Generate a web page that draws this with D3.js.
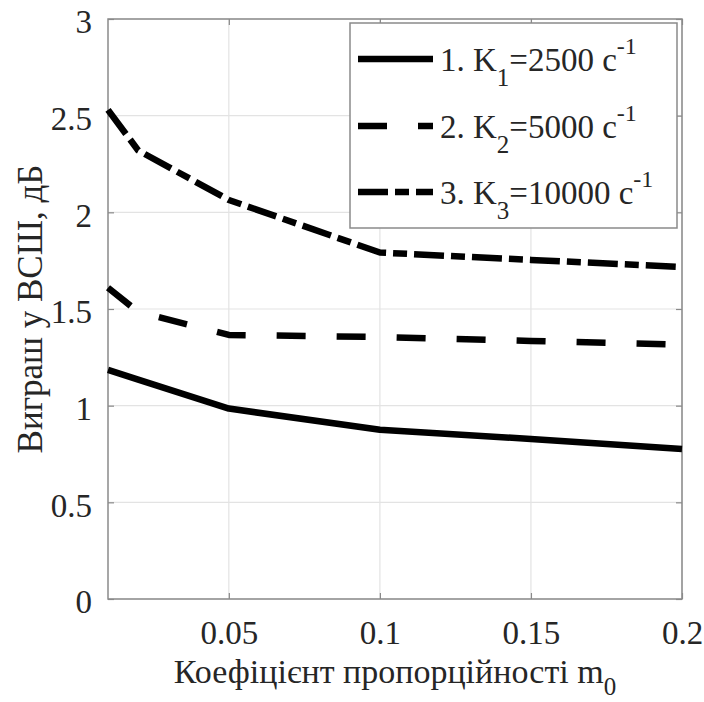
<!DOCTYPE html>
<html>
<head>
<meta charset="utf-8">
<script src="https://cdn.jsdelivr.net/npm/d3@7/dist/d3.min.js"></script>
<style>
  #chart text, #chart tspan {
    font-family: "Times New Roman", "Liberation Serif", Tinos, "Nimbus Roman", FreeSerif, "DejaVu Serif" !important;
  }
</style>
</head>
<body style="margin:0;background:#fff">
<svg id="chart" width="704" height="702" style="display:block"></svg>
<script>
// Proportionality coefficient m0 (x axis)
const mValues = [0.01, 0.02, 0.05, 0.1, 0.15, 0.2];
// SNR gain, dB, for each K
const gainK1 = [1.185, 1.135, 0.985, 0.875, 0.828, 0.776];
const gainK2 = [1.61, 1.485, 1.366, 1.355, 1.335, 1.315];
const gainK3 = [2.53, 2.32, 2.064, 1.792, 1.754, 1.717];

const seriesLabels = [
  { num: "1. K", sub: "1", rest: "=2500 c", sup: "-1" },
  { num: "2. K", sub: "2", rest: "=5000 c", sup: "-1" },
  { num: "3. K", sub: "3", rest: "=10000 c", sup: "-1" }
];
const seriesDash = ["none", "29 31", "30 7 14 7"];

const xTicks = [0.05, 0.1, 0.15, 0.2];
const yTicks = [0, 0.5, 1, 1.5, 2, 2.5, 3];
const xTickLabels = ["0.05", "0.1", "0.15", "0.2"];
const yTickLabels = ["0", "0.5", "1", "1.5", "2", "2.5", "3"];

const FONT = "Times New Roman";
const TEXT_COLOR = "#262626";

const plot = { left: 108, right: 682, top: 19, bottom: 599 };

const svg = d3.select("#chart");
const x = d3.scaleLinear().domain([0.01, 0.2]).range([plot.left, plot.right]);
const y = d3.scaleLinear().domain([0, 3]).range([plot.bottom, plot.top]);

const gridColor = "#e3e3e3";
const axisColor = "#8a8a8a";

// grid
svg.append("g").selectAll("line").data(xTicks).join("line")
  .attr("x1", d => x(d)).attr("x2", d => x(d))
  .attr("y1", plot.top).attr("y2", plot.bottom)
  .attr("stroke", gridColor).attr("stroke-width", 1.2);
svg.append("g").selectAll("line").data(yTicks).join("line")
  .attr("x1", plot.left).attr("x2", plot.right)
  .attr("y1", d => y(d)).attr("y2", d => y(d))
  .attr("stroke", gridColor).attr("stroke-width", 1.2);

// box
svg.append("rect")
  .attr("x", plot.left).attr("y", plot.top)
  .attr("width", plot.right - plot.left).attr("height", plot.bottom - plot.top)
  .attr("fill", "none").attr("stroke", axisColor).attr("stroke-width", 1.5);

// axes with inward ticks on all four sides
const tickLen = 6;
const axisBottom = d3.axisBottom(x).tickValues(xTicks).tickSize(-tickLen).tickFormat((d, i) => xTickLabels[i]).tickPadding(22);
const axisTop = d3.axisTop(x).tickValues(xTicks).tickSize(-tickLen).tickFormat("");
const axisLeft = d3.axisLeft(y).tickValues(yTicks).tickSize(-tickLen).tickFormat((d, i) => yTickLabels[i]).tickPadding(16);
const axisRight = d3.axisRight(y).tickValues(yTicks).tickSize(-tickLen).tickFormat("");

function styleAxis(g) {
  g.select(".domain").remove();
  g.attr("font-family", FONT).attr("font-size", 33);
  g.selectAll(".tick line").attr("stroke", axisColor).attr("stroke-width", 1.2);
  g.selectAll(".tick text").attr("font-family", FONT).attr("fill", TEXT_COLOR);
}

svg.append("g").attr("transform", `translate(0,${plot.bottom})`).call(axisBottom).call(styleAxis)
  .selectAll(".tick text").attr("dy", "0.71em");
svg.append("g").attr("transform", `translate(0,${plot.top})`).call(axisTop).call(styleAxis);
svg.append("g").attr("transform", `translate(${plot.left},0)`).call(axisLeft).call(styleAxis)
  .selectAll(".tick text").attr("dy", "0.42em");
svg.append("g").attr("transform", `translate(${plot.right},0)`).call(axisRight).call(styleAxis);

// series
const line = d3.line().x(d => x(d[0])).y(d => y(d[1]));
const allSeries = [gainK1, gainK2, gainK3];
svg.append("g").selectAll("path").data(allSeries).join("path")
  .attr("d", vals => line(vals.map((v, i) => [mValues[i], v])))
  .attr("fill", "none")
  .attr("stroke", "#000")
  .attr("stroke-width", 6.5)
  .attr("stroke-linejoin", "round")
  .attr("stroke-dasharray", (d, i) => seriesDash[i]);

// legend
const legend = svg.append("g");
legend.append("rect")
  .attr("x", 350).attr("y", 23).attr("width", 327).attr("height", 205)
  .attr("fill", "#fff").attr("stroke", axisColor).attr("stroke-width", 1.5);
const rowY = [59, 126, 192];
seriesLabels.forEach((s, i) => {
  legend.append("line")
    .attr("x1", 358).attr("x2", 433)
    .attr("y1", rowY[i]).attr("y2", rowY[i])
    .attr("stroke", "#000").attr("stroke-width", 6.5)
    .attr("stroke-dasharray", seriesDash[i]);
  const t = legend.append("text")
    .attr("x", 440).attr("y", rowY[i] + 12)
    .attr("font-size", 33).attr("fill", TEXT_COLOR)
    .attr("font-family", FONT);
  t.append("tspan").text(s.num);
  t.append("tspan").attr("font-size", 25).attr("dy", 15).text(s.sub);
  t.append("tspan").attr("dy", -15).text(s.rest);
  t.append("tspan").attr("font-size", 24).attr("dy", -17).text(s.sup);
});

// axis titles
const xt = svg.append("text")
  .attr("x", (plot.left + plot.right) / 2).attr("y", 683)
  .attr("text-anchor", "middle").attr("font-size", 34).attr("fill", TEXT_COLOR)
  .attr("font-family", FONT);
xt.append("tspan").text("Коефіцієнт пропорційності m");
xt.append("tspan").attr("font-size", 25).attr("dy", 12).text("0");

svg.append("text")
  .attr("transform", `translate(42,${(plot.top + plot.bottom) / 2}) rotate(-90)`)
  .attr("text-anchor", "middle").attr("font-size", 35).attr("fill", TEXT_COLOR)
  .attr("font-family", FONT)
  .text("Виграш у ВСШ, дБ");
</script>
</body>
</html>
